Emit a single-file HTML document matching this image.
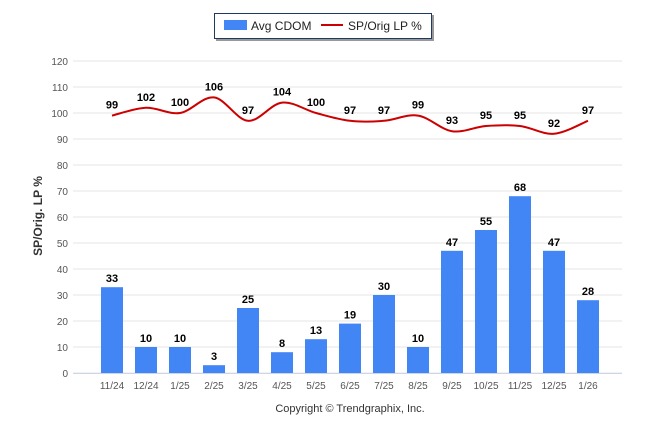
<!DOCTYPE html>
<html><head><meta charset="utf-8"><style>
body{margin:0;background:#fff;width:646px;height:434px;overflow:hidden;font-family:"Liberation Sans",sans-serif}
</style></head><body>
<svg id="c" width="646" height="434" font-family="Liberation Sans, sans-serif"></svg>
<script>
const categories=["11/24","12/24","1/25","2/25","3/25","4/25","5/25","6/25","7/25","8/25","9/25","10/25","11/25","12/25","1/26"];
const cdom=[33,10,10,3,25,8,13,19,30,10,47,55,68,47,28];
const sp=[99,102,100,106,97,104,100,97,97,99,93,95,95,92,97];
const yTicks=[0,10,20,30,40,50,60,70,80,90,100,110,120];
const NS="http://www.w3.org/2000/svg";
const svg=document.getElementById('c');
const y=v=>373-v*2.6;
const x=i=>112+i*34;
function el(t,a,txt){const e=document.createElementNS(NS,t);for(const k in a)e.setAttribute(k,a[k]);if(txt!==undefined)e.textContent=txt;svg.appendChild(e);return e;}
yTicks.forEach(t=>{
 const g=el('line',{x1:73,x2:622,y1:y(t),y2:y(t),stroke:'#e6e6e6','stroke-width':1});
 
 
 const l=el('text',{x:68,y:y(t)+4,'text-anchor':'end','font-size':10,fill:'#555'},t);
 
 
});
const ax=el('line',{x1:73,x2:622,y1:373.5,y2:373.5,stroke:'#ccd6eb'});


categories.forEach((c,i)=>{
 const b=el('rect',{x:x(i)-11,y:y(cdom[i]),width:22,height:cdom[i]*2.6,fill:'#4285f4'});
 
 
 const v=el('text',{x:x(i),y:y(cdom[i])-5,'text-anchor':'middle','font-size':11,'font-weight':'bold',fill:'#000'},cdom[i]);
 
 
 const t=el('text',{x:x(i),y:389,'text-anchor':'middle','font-size':10,fill:'#555'},c);
 
 
});
let d='M'+x(0)+','+y(sp[0]);
for(let i=0;i<sp.length-1;i++){
 const p0=[x(Math.max(i-1,0)),y(sp[Math.max(i-1,0)])],p1=[x(i),y(sp[i])],p2=[x(i+1),y(sp[i+1])],p3=[x(Math.min(i+2,sp.length-1)),y(sp[Math.min(i+2,sp.length-1)])];
 const c1=[p1[0]+(p2[0]-p0[0])/6,p1[1]+(p2[1]-p0[1])/6],c2=[p2[0]-(p3[0]-p1[0])/6,p2[1]-(p3[1]-p1[1])/6];
 d+=` C${c1[0]},${c1[1]} ${c2[0]},${c2[1]} ${p2[0]},${p2[1]}`;
}
const ln=el('path',{d:d,fill:'none',stroke:'#cc0000','stroke-width':2});


sp.forEach((v,i)=>{
 const t=el('text',{x:x(i),y:y(v)-7,'text-anchor':'middle','font-size':11,'font-weight':'bold',fill:'#000'},v);
 
 
});
const yt=el('text',{x:0,y:0,transform:'translate(42,216) rotate(-90)','text-anchor':'middle','font-size':12,'font-weight':'bold',fill:'#333'},'SP/Orig. LP %');


const cp=el('text',{x:350,y:412,'text-anchor':'middle','font-size':11,fill:'#333'},'Copyright © Trendgraphix, Inc.');


const sh=el('rect',{x:216,y:15,width:218,height:26,fill:'#999'});


const lb=el('rect',{x:214.5,y:13.5,width:217,height:25,fill:'#fff',stroke:'#1f3864'});


const l1=el('rect',{x:224,y:20,width:23,height:10,fill:'#4285f4'});


const l1t=el('text',{x:251,y:30,'font-size':12,fill:'#222'},'Avg CDOM');


const l2=el('line',{x1:321,x2:343,y1:25,y2:25,stroke:'#cc0000','stroke-width':2});


const l2t=el('text',{x:348,y:30,'font-size':12,fill:'#222'},'SP/Orig LP %');


</script>
</body></html>
